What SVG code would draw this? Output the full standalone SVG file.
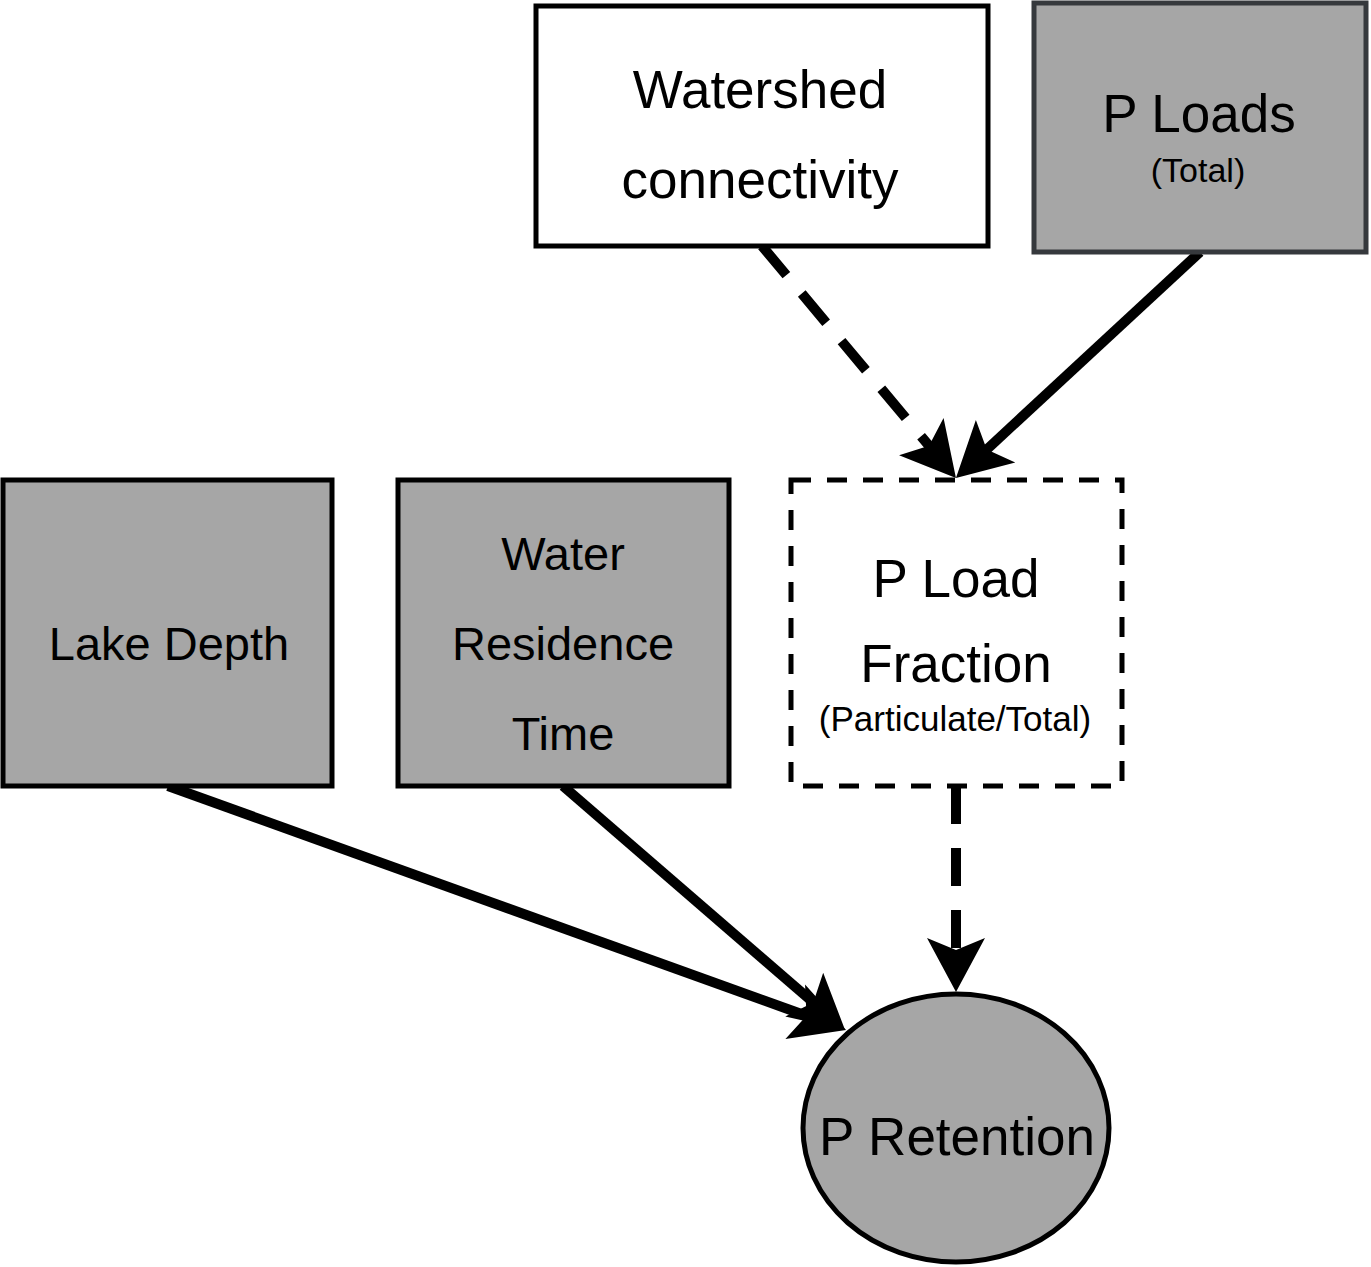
<svg xmlns="http://www.w3.org/2000/svg" width="1371" height="1267" viewBox="0 0 1371 1267">
<defs>
<style>
.box{stroke:#000;stroke-width:5}
.gray{fill:#a6a6a6}
.t{font-family:"Liberation Sans",Arial,Helvetica,sans-serif;fill:#000;text-anchor:middle}
.conn{stroke:#000;stroke-width:10;fill:none;marker-end:url(#arr)}
.dash{stroke-dasharray:38 24}
.bdash{stroke-dasharray:20 16}
</style>
<marker id="arr" markerUnits="userSpaceOnUse" markerWidth="56" markerHeight="60" viewBox="0 0 56 60" refX="14" refY="29" orient="auto" overflow="visible">
<path d="M54,29 L0,0 L12,29 L0,58 Z" fill="#000"/>
</marker>
</defs>
<rect width="1371" height="1267" fill="#fff"/>
<g id="connectors">
<line class="conn dash" x1="762" y1="246" x2="930.3" y2="447.3"/>
<line class="conn" x1="1200" y1="252" x2="985.3" y2="450.8"/>
<line class="conn" x1="168" y1="786" x2="808.4" y2="1016.5"/>
<line class="conn" x1="563" y1="786" x2="814.8" y2="1003.8"/>
<line class="conn dash" x1="956" y1="786" x2="956" y2="952"/>
</g>
<g id="watershed">
<rect class="box" x="536" y="6" width="452" height="240" fill="#fff"/>
<text class="t" x="760" y="108" font-size="53">Watershed</text>
<text class="t" x="760" y="198" font-size="53">connectivity</text>
</g>
<g id="ploads">
<rect x="1034" y="3" width="332" height="249" class="gray" stroke="#36393d" stroke-width="5"/>
<text class="t" x="1199" y="132" font-size="53">P Loads</text>
<text class="t" x="1198" y="182" font-size="34">(Total)</text>
</g>
<g id="lakedepth">
<rect class="box gray" x="3" y="480" width="329" height="306"/>
<text class="t" x="169" y="660" font-size="47">Lake Depth</text>
</g>
<g id="residence">
<rect class="box gray" x="398" y="480" width="331" height="306"/>
<text class="t" x="563" y="570" font-size="47">Water</text>
<text class="t" x="563" y="660" font-size="47">Residence</text>
<text class="t" x="563" y="750" font-size="47">Time</text>
</g>
<g id="fraction">
<rect class="box bdash" x="791" y="480" width="331" height="306" fill="#fff"/>
<text class="t" x="956" y="597" font-size="53">P Load</text>
<text class="t" x="956" y="682" font-size="53">Fraction</text>
<text class="t" x="955" y="731" font-size="35">(Particulate/Total)</text>
</g>
<g id="retention">
<ellipse class="box gray" cx="956" cy="1128" rx="153" ry="134"/>
<text class="t" x="957" y="1155" font-size="53">P Retention</text>
</g>
</svg>
